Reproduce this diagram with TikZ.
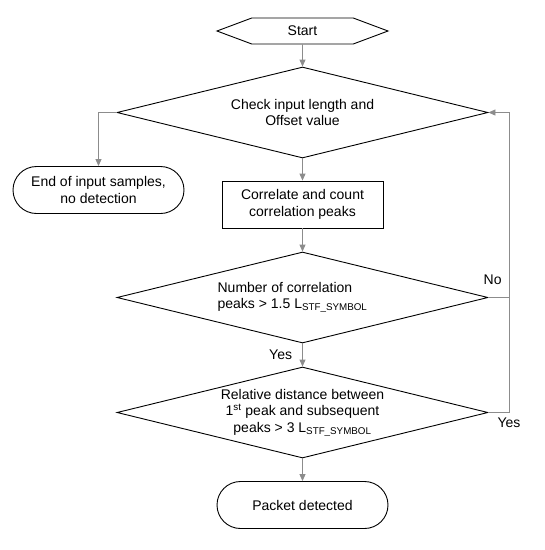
\documentclass[tikz,border=0pt]{standalone}
\usepackage{fontspec}
\setmainfont{Liberation Sans}
\usetikzlibrary{positioning}
\usetikzlibrary{shapes.geometric,shapes.misc,shapes.symbols}
\usetikzlibrary{arrows.meta}
\definecolor{linegray}{HTML}{8C8C8C}

\begin{document}
\begin{tikzpicture}[x=1pt,y=-1pt,
    every node/.style={font=\fontsize{14}{16.5}\selectfont, inner sep=0pt, line width=0.9pt},
    terminal/.style={draw, signal, signal to=west and east, signal pointer angle=41,
        minimum width=171pt, minimum height=26pt},
    decision/.style={draw, diamond, aspect=4.08, minimum width=371pt, minimum height=91pt, align=center},
    process/.style={draw, rectangle, minimum width=161pt, minimum height=47pt, align=center},
    finish/.style={draw, rounded rectangle, minimum width=171pt, minimum height=47pt, align=center},
    flow/.style={draw=linegray, line width=0.9pt},
    >={Triangle[length=7pt,width=6pt]}]
    \useasboundingbox (0, 0) rectangle (545, 550);
    \path (302.5, 31) node [terminal] (start) {Start};
    \path (302.5, 112.5) node [decision] (check) {Check input length and\\Offset value};
    \draw [flow,->] (start) -- (check);
    \path (98.5, 190) node [finish] (end) {End of input samples,\\no detection};
    \draw [flow,->] (check.west) -| (end.north);
    \path (302.5, 204.5) node [process] (corr) {Correlate and count\\correlation peaks};
    \draw [flow,->] (check.south) -- (corr.north);
    \path (302.5, 297.5) node [decision, align=left] (count) {Number of correlation\\peaks > 1.5 L\textsubscript{STF\_SYMBOL}\hspace*{20pt}};
    \draw [flow,->] (corr.south) -- (count.north);
    \path (302.5, 412.5) node [decision] (dist) {Relative distance between\\1\textsuperscript{st} peak and subsequent\\peaks > 3 L\textsubscript{STF\_SYMBOL}};
    \draw [flow,->] (count.south) -- (dist.north) node[midway,left=10pt] {Yes};
    \path (302.5, 505) node [finish] (pkt) {Packet detected};
    \draw [flow,->] (dist.south) -- (pkt.north);
    \coordinate (back) at (509, 297.5);
    \draw [flow,->] (count.east) -- (back) node[above left=12pt and 7pt] {No} |- (check.east);
    \draw [flow] (dist.east) -| (back) node[pos=0.5,below=5pt] {Yes};
\end{tikzpicture}
\end{document}
